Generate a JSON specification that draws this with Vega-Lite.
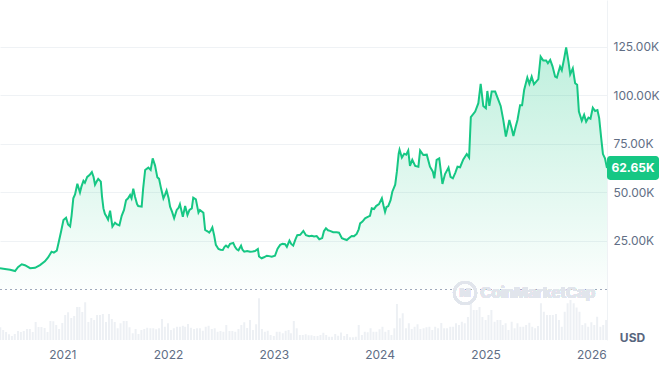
{
  "$schema": "https://vega.github.io/schema/vega-lite/v6.json",
  "width": 607,
  "height": 340,
  "autosize": {"type": "none"},
  "padding": {"left": 0, "top": 0, "right": 56, "bottom": 26},
  "background": "white",
  "config": {"view": {"stroke": null}, "font": "Inter"},
  "datasets": {
    "price": [
      {"date":"2020-05-31","price":10900},{"date":"2020-06-17","price":10600},{"date":"2020-07-05","price":10200},{"date":"2020-07-22","price":9500},
      {"date":"2020-08-01","price":11500},{"date":"2020-08-14","price":13000},{"date":"2020-08-25","price":12500},{"date":"2020-09-12","price":11000},
      {"date":"2020-09-29","price":11200},{"date":"2020-10-16","price":12600},{"date":"2020-11-02","price":14500},{"date":"2020-11-13","price":16500},
      {"date":"2020-11-25","price":19500},{"date":"2020-12-03","price":19000},{"date":"2020-12-13","price":20000},{"date":"2020-12-19","price":24000},
      {"date":"2020-12-28","price":30000},{"date":"2021-01-05","price":35800},{"date":"2021-01-14","price":37000},{"date":"2021-01-21","price":33500},
      {"date":"2021-01-28","price":32500},{"date":"2021-02-02","price":38000},{"date":"2021-02-08","price":47000},{"date":"2021-02-14","price":49000},
      {"date":"2021-02-22","price":54500},{"date":"2021-03-03","price":50000},{"date":"2021-03-08","price":53000},{"date":"2021-03-15","price":56000},
      {"date":"2021-03-20","price":55000},{"date":"2021-03-28","price":58000},{"date":"2021-04-05","price":59000},{"date":"2021-04-13","price":60500},
      {"date":"2021-04-19","price":58000},{"date":"2021-04-24","price":54000},{"date":"2021-05-01","price":56000},{"date":"2021-05-05","price":57000},
      {"date":"2021-05-14","price":55600},{"date":"2021-05-18","price":48000},{"date":"2021-05-23","price":41800},{"date":"2021-05-28","price":39000},
      {"date":"2021-06-03","price":37500},{"date":"2021-06-08","price":36000},{"date":"2021-06-15","price":40600},{"date":"2021-06-23","price":32400},
      {"date":"2021-07-02","price":34400},{"date":"2021-07-09","price":33500},{"date":"2021-07-17","price":33000},{"date":"2021-07-25","price":38000},
      {"date":"2021-08-02","price":41000},{"date":"2021-08-09","price":46000},{"date":"2021-08-16","price":47000},{"date":"2021-08-23","price":48700},
      {"date":"2021-08-28","price":47000},{"date":"2021-09-03","price":52000},{"date":"2021-09-09","price":47800},{"date":"2021-09-16","price":44000},
      {"date":"2021-09-20","price":43000},{"date":"2021-10-02","price":42700},{"date":"2021-10-07","price":52000},{"date":"2021-10-14","price":61600},
      {"date":"2021-10-25","price":62800},{"date":"2021-11-02","price":61600},{"date":"2021-11-09","price":67600},{"date":"2021-11-17","price":64000},
      {"date":"2021-11-25","price":57800},{"date":"2021-12-01","price":57000},{"date":"2021-12-08","price":52000},{"date":"2021-12-16","price":47000},
      {"date":"2021-12-22","price":49000},{"date":"2021-12-27","price":51000},{"date":"2022-01-03","price":47000},{"date":"2022-01-08","price":42700},
      {"date":"2022-01-15","price":40000},{"date":"2022-01-22","price":36700},{"date":"2022-01-31","price":41000},{"date":"2022-02-06","price":42000},
      {"date":"2022-02-11","price":44000},{"date":"2022-02-21","price":37500},{"date":"2022-03-01","price":43000},{"date":"2022-03-09","price":38400},
      {"date":"2022-03-16","price":41000},{"date":"2022-03-24","price":41800},{"date":"2022-03-29","price":47300},{"date":"2022-04-07","price":46500},
      {"date":"2022-04-16","price":39600},{"date":"2022-04-21","price":41000},{"date":"2022-05-03","price":39500},{"date":"2022-05-09","price":30700},
      {"date":"2022-05-17","price":30000},{"date":"2022-05-23","price":29300},{"date":"2022-05-29","price":30500},{"date":"2022-06-03","price":32000},
      {"date":"2022-06-09","price":28000},{"date":"2022-06-15","price":23000},{"date":"2022-06-24","price":20900},{"date":"2022-07-01","price":20500},
      {"date":"2022-07-09","price":20400},{"date":"2022-07-15","price":22000},{"date":"2022-07-20","price":22600},{"date":"2022-07-27","price":21800},
      {"date":"2022-08-03","price":23500},{"date":"2022-08-14","price":24000},{"date":"2022-08-20","price":22000},{"date":"2022-08-26","price":20700},
      {"date":"2022-09-01","price":20200},{"date":"2022-09-10","price":22600},{"date":"2022-09-15","price":20500},{"date":"2022-09-21","price":19500},
      {"date":"2022-10-01","price":19800},{"date":"2022-10-11","price":19500},{"date":"2022-10-20","price":19600},{"date":"2022-10-28","price":19800},
      {"date":"2022-11-07","price":20900},{"date":"2022-11-11","price":17000},{"date":"2022-11-20","price":16100},{"date":"2022-11-28","price":16600},
      {"date":"2022-12-08","price":17400},{"date":"2022-12-16","price":17200},{"date":"2022-12-25","price":16900},{"date":"2023-01-05","price":17400},
      {"date":"2023-01-14","price":21000},{"date":"2023-01-23","price":23000},{"date":"2023-01-31","price":23500},{"date":"2023-02-09","price":23300},
      {"date":"2023-02-15","price":22000},{"date":"2023-02-24","price":25200},{"date":"2023-03-02","price":23500},{"date":"2023-03-09","price":22600},
      {"date":"2023-03-17","price":26000},{"date":"2023-03-23","price":28000},{"date":"2023-04-02","price":28200},{"date":"2023-04-13","price":30200},
      {"date":"2023-04-22","price":28000},{"date":"2023-05-03","price":27500},{"date":"2023-05-12","price":27700},{"date":"2023-05-20","price":27300},
      {"date":"2023-05-29","price":27500},{"date":"2023-06-07","price":25900},{"date":"2023-06-17","price":26500},{"date":"2023-06-23","price":30000},
      {"date":"2023-06-30","price":31500},{"date":"2023-07-07","price":30500},{"date":"2023-07-14","price":30200},{"date":"2023-07-25","price":29500},
      {"date":"2023-08-06","price":29500},{"date":"2023-08-14","price":29300},{"date":"2023-08-24","price":26400},{"date":"2023-08-31","price":26000},
      {"date":"2023-09-10","price":25500},{"date":"2023-09-18","price":26500},{"date":"2023-09-27","price":27600},{"date":"2023-10-05","price":27500},
      {"date":"2023-10-14","price":28600},{"date":"2023-10-21","price":31000},{"date":"2023-10-26","price":34100},{"date":"2023-11-03","price":35000},
      {"date":"2023-11-12","price":36700},{"date":"2023-11-23","price":37500},{"date":"2023-11-29","price":38000},{"date":"2023-12-05","price":41900},
      {"date":"2023-12-13","price":41500},{"date":"2023-12-20","price":43000},{"date":"2023-12-30","price":44000},{"date":"2024-01-09","price":47000},
      {"date":"2024-01-15","price":43000},{"date":"2024-01-20","price":40000},{"date":"2024-01-25","price":42500},{"date":"2024-01-31","price":43000},
      {"date":"2024-02-08","price":46000},{"date":"2024-02-14","price":50400},{"date":"2024-02-24","price":54000},{"date":"2024-03-01","price":61000},
      {"date":"2024-03-07","price":70000},{"date":"2024-03-10","price":72000},{"date":"2024-03-18","price":68000},{"date":"2024-03-26","price":70000},
      {"date":"2024-04-02","price":69500},{"date":"2024-04-09","price":71600},{"date":"2024-04-15","price":63700},{"date":"2024-04-23","price":66800},
      {"date":"2024-05-03","price":63700},{"date":"2024-05-14","price":63300},{"date":"2024-05-20","price":71600},{"date":"2024-05-31","price":69300},
      {"date":"2024-06-12","price":69500},{"date":"2024-06-23","price":63300},{"date":"2024-07-03","price":60700},{"date":"2024-07-08","price":57300},
      {"date":"2024-07-16","price":66800},{"date":"2024-07-25","price":67600},{"date":"2024-08-05","price":54400},{"date":"2024-08-14","price":59500},
      {"date":"2024-08-26","price":62800},{"date":"2024-09-02","price":58000},{"date":"2024-09-10","price":57300},{"date":"2024-09-18","price":60000},
      {"date":"2024-09-26","price":63300},{"date":"2024-10-05","price":63000},{"date":"2024-10-16","price":67000},{"date":"2024-10-28","price":69800},
      {"date":"2024-11-05","price":68000},{"date":"2024-11-11","price":88800},{"date":"2024-11-26","price":91700},{"date":"2024-12-07","price":96000},
      {"date":"2024-12-15","price":106000},{"date":"2024-12-24","price":94600},{"date":"2025-01-02","price":93400},{"date":"2025-01-07","price":102300},
      {"date":"2025-01-14","price":94600},{"date":"2025-01-22","price":102000},{"date":"2025-02-03","price":102000},{"date":"2025-02-14","price":97700},
      {"date":"2025-02-22","price":94600},{"date":"2025-03-03","price":87400},{"date":"2025-03-12","price":78800},{"date":"2025-03-18","price":83000},
      {"date":"2025-03-24","price":87400},{"date":"2025-04-01","price":83000},{"date":"2025-04-07","price":79100},{"date":"2025-04-15","price":84000},
      {"date":"2025-04-21","price":87400},{"date":"2025-04-30","price":95000},{"date":"2025-05-07","price":95000},{"date":"2025-05-14","price":102800},
      {"date":"2025-05-25","price":109200},{"date":"2025-06-01","price":106000},{"date":"2025-06-09","price":109700},{"date":"2025-06-17","price":105800},
      {"date":"2025-06-24","price":107000},{"date":"2025-07-02","price":108400},{"date":"2025-07-10","price":120000},{"date":"2025-07-19","price":118000},
      {"date":"2025-07-29","price":118000},{"date":"2025-08-04","price":116600},{"date":"2025-08-12","price":118300},{"date":"2025-08-20","price":115000},
      {"date":"2025-08-29","price":109700},{"date":"2025-09-04","price":109200},{"date":"2025-09-15","price":114900},{"date":"2025-09-21","price":113000},
      {"date":"2025-09-29","price":119000},{"date":"2025-10-06","price":124800},{"date":"2025-10-14","price":117400},{"date":"2025-10-20","price":110900},
      {"date":"2025-10-29","price":114000},{"date":"2025-11-06","price":106300},{"date":"2025-11-13","price":105500},{"date":"2025-11-19","price":91700},
      {"date":"2025-11-29","price":87000},{"date":"2025-12-07","price":90000},{"date":"2025-12-14","price":86500},{"date":"2025-12-22","price":88600},
      {"date":"2025-12-29","price":88000},{"date":"2026-01-06","price":93700},{"date":"2026-01-14","price":92000},{"date":"2026-01-22","price":92500},
      {"date":"2026-01-28","price":88300},{"date":"2026-02-04","price":78000},{"date":"2026-02-10","price":69800},{"date":"2026-02-17","price":67600},
      {"date":"2026-02-24","price":62650}
    ],
    "volume": [
      {"date":"2020-06-01","volume":51},{"date":"2020-06-11","volume":40},{"date":"2020-06-21","volume":32},
      {"date":"2020-07-01","volume":23},{"date":"2020-07-11","volume":16},{"date":"2020-07-21","volume":24},
      {"date":"2020-08-01","volume":36},{"date":"2020-08-11","volume":32},{"date":"2020-08-21","volume":36},
      {"date":"2020-09-01","volume":44},{"date":"2020-09-11","volume":44},{"date":"2020-09-21","volume":32},
      {"date":"2020-10-01","volume":72},{"date":"2020-10-11","volume":52},{"date":"2020-10-21","volume":52},
      {"date":"2020-11-01","volume":48},{"date":"2020-11-11","volume":32},{"date":"2020-11-21","volume":76},
      {"date":"2020-12-01","volume":75},{"date":"2020-12-11","volume":60},{"date":"2020-12-21","volume":44},
      {"date":"2021-01-01","volume":68},{"date":"2021-01-11","volume":100},{"date":"2021-01-21","volume":111},
      {"date":"2021-02-01","volume":88},{"date":"2021-02-11","volume":96},{"date":"2021-02-21","volume":132},
      {"date":"2021-03-01","volume":132},{"date":"2021-03-11","volume":112},{"date":"2021-03-21","volume":151},
      {"date":"2021-04-01","volume":72},{"date":"2021-04-11","volume":88},{"date":"2021-04-21","volume":80},
      {"date":"2021-05-01","volume":100},{"date":"2021-05-11","volume":100},{"date":"2021-05-21","volume":104},
      {"date":"2021-06-01","volume":72},{"date":"2021-06-11","volume":104},{"date":"2021-06-21","volume":84},
      {"date":"2021-07-01","volume":72},{"date":"2021-07-11","volume":47},{"date":"2021-07-21","volume":67},
      {"date":"2021-08-01","volume":76},{"date":"2021-08-11","volume":76},{"date":"2021-08-21","volume":51},
      {"date":"2021-09-01","volume":27},{"date":"2021-09-11","volume":44},{"date":"2021-09-21","volume":24},
      {"date":"2021-10-01","volume":40},{"date":"2021-10-11","volume":44},{"date":"2021-10-21","volume":49},
      {"date":"2021-11-01","volume":47},{"date":"2021-11-11","volume":47},{"date":"2021-11-21","volume":43},
      {"date":"2021-12-01","volume":47},{"date":"2021-12-11","volume":84},{"date":"2021-12-21","volume":53},
      {"date":"2022-01-01","volume":67},{"date":"2022-01-11","volume":40},{"date":"2022-01-21","volume":47},
      {"date":"2022-02-01","volume":53},{"date":"2022-02-11","volume":53},{"date":"2022-02-21","volume":57},
      {"date":"2022-03-01","volume":53},{"date":"2022-03-11","volume":64},{"date":"2022-03-21","volume":49},
      {"date":"2022-04-01","volume":44},{"date":"2022-04-11","volume":47},{"date":"2022-04-21","volume":47},
      {"date":"2022-05-01","volume":37},{"date":"2022-05-11","volume":53},{"date":"2022-05-21","volume":57},
      {"date":"2022-06-01","volume":44},{"date":"2022-06-11","volume":47},{"date":"2022-06-21","volume":33},
      {"date":"2022-07-01","volume":36},{"date":"2022-07-11","volume":33},{"date":"2022-07-21","volume":60},
      {"date":"2022-08-01","volume":36},{"date":"2022-08-11","volume":36},{"date":"2022-08-21","volume":33},
      {"date":"2022-09-01","volume":44},{"date":"2022-09-11","volume":60},{"date":"2022-09-21","volume":71},
      {"date":"2022-10-01","volume":48},{"date":"2022-10-11","volume":80},{"date":"2022-10-21","volume":40},
      {"date":"2022-11-01","volume":63},{"date":"2022-11-11","volume":167},{"date":"2022-11-21","volume":44},
      {"date":"2022-12-01","volume":33},{"date":"2022-12-11","volume":37},{"date":"2022-12-21","volume":20},
      {"date":"2023-01-01","volume":16},{"date":"2023-01-11","volume":33},{"date":"2023-01-21","volume":33},
      {"date":"2023-02-01","volume":27},{"date":"2023-02-11","volume":37},{"date":"2023-02-21","volume":40},
      {"date":"2023-03-01","volume":27},{"date":"2023-03-11","volume":76},{"date":"2023-03-21","volume":47},
      {"date":"2023-04-01","volume":20},{"date":"2023-04-11","volume":20},{"date":"2023-04-21","volume":23},
      {"date":"2023-05-01","volume":19},{"date":"2023-05-11","volume":19},{"date":"2023-05-21","volume":16},
      {"date":"2023-06-01","volume":16},{"date":"2023-06-11","volume":20},{"date":"2023-06-21","volume":29},
      {"date":"2023-07-01","volume":20},{"date":"2023-07-11","volume":13},{"date":"2023-07-21","volume":13},
      {"date":"2023-08-01","volume":24},{"date":"2023-08-11","volume":17},{"date":"2023-08-21","volume":30},
      {"date":"2023-09-01","volume":16},{"date":"2023-09-11","volume":24},{"date":"2023-09-21","volume":11},
      {"date":"2023-10-01","volume":11},{"date":"2023-10-11","volume":13},{"date":"2023-10-21","volume":60},
      {"date":"2023-11-01","volume":20},{"date":"2023-11-11","volume":33},{"date":"2023-11-21","volume":31},
      {"date":"2023-12-01","volume":47},{"date":"2023-12-11","volume":33},{"date":"2023-12-21","volume":33},
      {"date":"2024-01-01","volume":43},{"date":"2024-01-11","volume":53},{"date":"2024-01-21","volume":33},
      {"date":"2024-02-01","volume":40},{"date":"2024-02-11","volume":20},{"date":"2024-02-21","volume":47},
      {"date":"2024-03-01","volume":144},{"date":"2024-03-11","volume":87},{"date":"2024-03-21","volume":107},
      {"date":"2024-04-01","volume":47},{"date":"2024-04-11","volume":67},{"date":"2024-04-21","volume":44},
      {"date":"2024-05-01","volume":53},{"date":"2024-05-11","volume":63},{"date":"2024-05-21","volume":44},
      {"date":"2024-06-01","volume":47},{"date":"2024-06-11","volume":51},{"date":"2024-06-21","volume":53},
      {"date":"2024-07-01","volume":40},{"date":"2024-07-11","volume":53},{"date":"2024-07-21","volume":47},
      {"date":"2024-08-01","volume":68},{"date":"2024-08-11","volume":47},{"date":"2024-08-21","volume":47},
      {"date":"2024-09-01","volume":53},{"date":"2024-09-11","volume":53},{"date":"2024-09-21","volume":67},
      {"date":"2024-10-01","volume":60},{"date":"2024-10-11","volume":73},{"date":"2024-10-21","volume":67},
      {"date":"2024-11-01","volume":92},{"date":"2024-11-11","volume":147},{"date":"2024-11-21","volume":120},
      {"date":"2024-12-01","volume":120},{"date":"2024-12-11","volume":132},{"date":"2024-12-21","volume":92},
      {"date":"2025-01-01","volume":80},{"date":"2025-01-11","volume":100},{"date":"2025-01-21","volume":120},
      {"date":"2025-02-01","volume":73},{"date":"2025-02-11","volume":80},{"date":"2025-02-21","volume":80},
      {"date":"2025-03-01","volume":60},{"date":"2025-03-11","volume":67},{"date":"2025-03-21","volume":40},
      {"date":"2025-04-01","volume":73},{"date":"2025-04-11","volume":47},{"date":"2025-04-21","volume":67},
      {"date":"2025-05-01","volume":53},{"date":"2025-05-11","volume":53},{"date":"2025-05-21","volume":60},
      {"date":"2025-06-01","volume":69},{"date":"2025-06-11","volume":53},{"date":"2025-06-21","volume":47},
      {"date":"2025-07-01","volume":56},{"date":"2025-07-11","volume":147},{"date":"2025-07-21","volume":113},
      {"date":"2025-08-01","volume":100},{"date":"2025-08-11","volume":100},{"date":"2025-08-21","volume":100},
      {"date":"2025-09-01","volume":104},{"date":"2025-09-11","volume":80},{"date":"2025-09-21","volume":53},
      {"date":"2025-10-01","volume":113},{"date":"2025-10-11","volume":147},{"date":"2025-10-21","volume":160},
      {"date":"2025-11-01","volume":147},{"date":"2025-11-11","volume":130},{"date":"2025-11-21","volume":113},
      {"date":"2025-12-01","volume":60},{"date":"2025-12-11","volume":67},{"date":"2025-12-21","volume":53},
      {"date":"2026-01-01","volume":71},{"date":"2026-01-11","volume":60},{"date":"2026-01-21","volume":93},
      {"date":"2026-02-01","volume":53},{"date":"2026-02-11","volume":60},{"date":"2026-02-21","volume":80}
    ]
  },
  "layer": [
    {
      "data": {"name": "volume"},
      "mark": {"type": "bar", "width": 2, "color": "#edf0f4"},
      "encoding": {
        "x": {
          "field": "date", "type": "temporal",
          "scale": {"type": "utc", "padding": 0, "domain": [{"year": 2020, "month": 5, "date": 31, "utc": true}, {"year": 2026, "month": 2, "date": 24, "utc": true}]},
          "axis": {"title": null, "grid": false, "ticks": false, "domain": false, "labelPadding": 9, "labelFontSize": 12, "labelColor": "#616e85", "labelFont": "Inter", "format": "%Y", "formatType": "utc", "tickCount": {"interval": "year", "step": 1}, "labelFlush": false}
        },
        "y": {"field": "volume", "type": "quantitative", "scale": {"domain": [0, 1360], "nice": false}, "axis": null}
      }
    },
    {
      "data": {"name": "price"},
      "layer": [
        {
          "mark": {
            "type": "area",
            "color": {"gradient": "linear", "x1": 0, "y1": 0, "x2": 0, "y2": 1,
              "stops": [{"offset": 0, "color": "rgba(22,199,132,0.28)"}, {"offset": 1, "color": "rgba(22,199,132,0.01)"}]}
          },
          "encoding": {
            "x": {"field": "date", "type": "temporal"},
            "y": {
              "field": "price", "type": "quantitative",
              "scale": {"domain": [-26030, 149200], "nice": false, "zero": false},
              "axis": {"orient": "right", "title": "USD", "titleAngle": 0, "titleX": 25, "titleY": 337, "titleAlign": "center", "titleBaseline": "middle", "titleFontSize": 12, "titleFontWeight": "bold", "titleColor": "#58667e", "titleFont": "Inter",
                "grid": true, "gridColor": "#eff2f5", "ticks": false, "domain": true, "domainColor": "#eff2f5",
                "values": [25000, 50000, 75000, 100000, 125000], "labelExpr": "format(datum.value/1000,'.2f')+'K'",
                "labelPadding": 6, "labelFontSize": 12, "labelColor": "#616e85", "labelFont": "Inter"}
            },
            "y2": {"datum": 0}
          }
        },
        {
          "mark": {"type": "line", "color": "#16c784", "strokeWidth": 2},
          "encoding": {
            "x": {"field": "date", "type": "temporal"},
            "y": {"field": "price", "type": "quantitative"}
          }
        },
        {
          "mark": {"type": "rule", "strokeDash": [1.5, 3.5], "color": "#a0a9bb", "strokeWidth": 1.2},
          "encoding": {"y": {"datum": 0}}
        },
        {
          "mark": {"type": "point", "shape": "circle", "filled": false, "size": 470, "strokeWidth": 2.5, "color": "#e1e5ec", "opacity": 1},
          "encoding": {
            "x": {"datum": {"year": 2024, "month": 10, "date": 22, "utc": true}, "type": "temporal"},
            "y": {"datum": -1800}
          }
        },
        {
          "mark": {"type": "text", "text": "M", "fontSize": 12, "fontWeight": "bold", "color": "#e1e5ec", "align": "center", "baseline": "middle"},
          "encoding": {
            "x": {"datum": {"year": 2024, "month": 10, "date": 22, "utc": true}, "type": "temporal"},
            "y": {"datum": -1800}
          }
        },
        {
          "mark": {"type": "text", "text": "CoinMarketCap", "fontSize": 15, "fontWeight": "bold", "color": "#e1e5ec", "align": "center", "baseline": "middle"},
          "encoding": {
            "x": {"datum": {"year": 2025, "month": 6, "date": 30, "utc": true}, "type": "temporal"},
            "y": {"datum": -1800}
          }
        },
        {
          "transform": [{"filter": "datum.price == 62650"}],
          "mark": {"type": "point", "shape": "M-0.88,-0.46H0.88A0.12,0.12 0 0 1 1,-0.34V0.34A0.12,0.12 0 0 1 0.88,0.46H-0.88A0.12,0.12 0 0 1 -1,0.34V-0.34A0.12,0.12 0 0 1 -0.88,-0.46Z", "size": 2704, "filled": true, "color": "#16c784", "opacity": 1, "strokeWidth": 0, "xOffset": 26},
          "encoding": {
            "x": {"field": "date", "type": "temporal"},
            "y": {"field": "price", "type": "quantitative"}
          }
        },
        {
          "transform": [{"filter": "datum.price == 62650"}, {"calculate": "format(datum.price/1000,'.2f')+'K'", "as": "label"}],
          "mark": {"type": "text", "color": "white", "fontSize": 12, "fontWeight": "bold", "align": "center", "baseline": "middle", "dx": 26},
          "encoding": {
            "x": {"field": "date", "type": "temporal"},
            "y": {"field": "price", "type": "quantitative"},
            "text": {"field": "label"}
          }
        }
      ]
    }
  ],
  "resolve": {"scale": {"y": "independent"}}
}
